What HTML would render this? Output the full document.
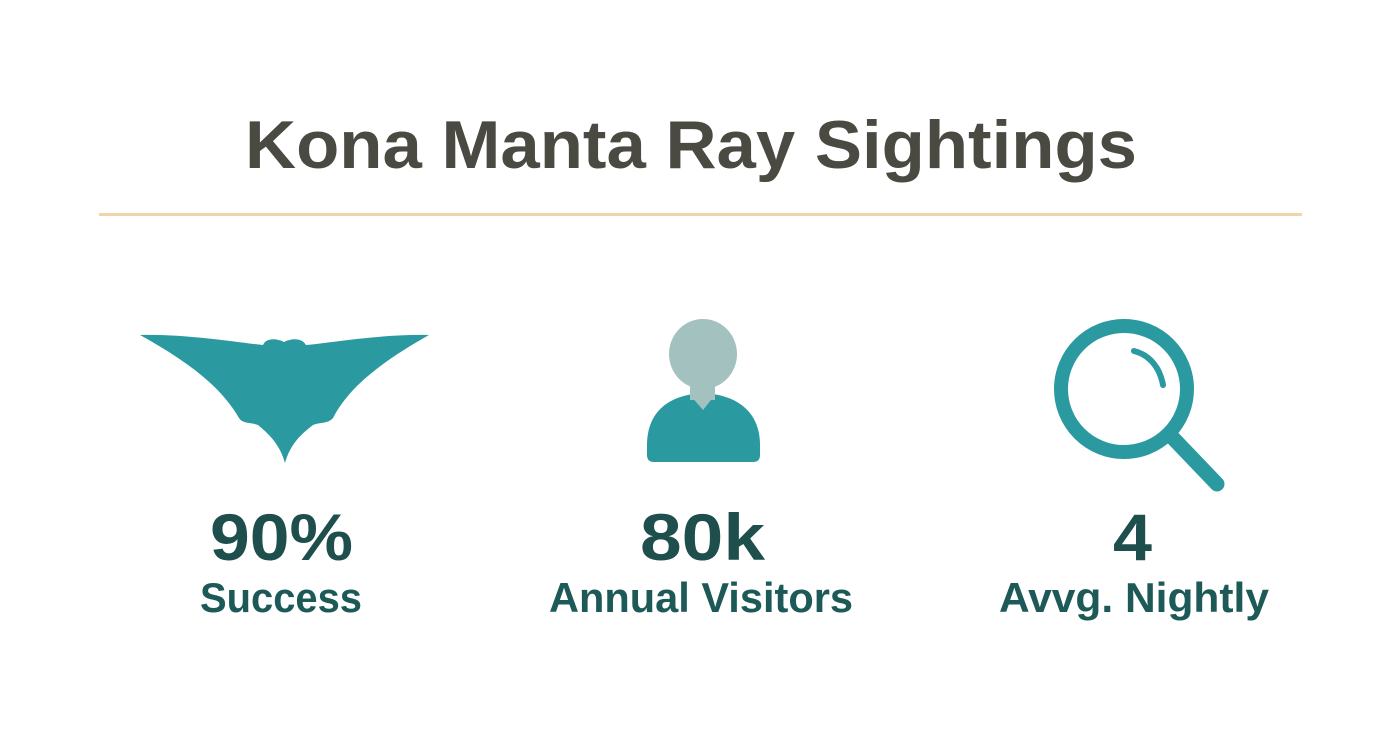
<!DOCTYPE html>
<html><head><meta charset="utf-8"><style>
html,body{margin:0;padding:0;background:#fff}
svg{display:block}
text{font-family:"Liberation Sans",Arial,sans-serif;font-weight:bold}
</style></head><body>
<svg width="1392" height="752" viewBox="0 0 1392 752" xmlns="http://www.w3.org/2000/svg">
<rect width="1392" height="752" fill="#ffffff"/>
<text x="245" y="168" font-size="68" fill="#4a4a42" textLength="892" lengthAdjust="spacingAndGlyphs">Kona Manta Ray Sightings</text>
<rect x="99" y="213" width="1203" height="3" fill="#f1d3ac"/>
<!-- manta -->
<path d="M140,335 C190,334 240,343 263,345 C266,338 276,338 284,342 C292,338 302,338 306,345 C330,343 380,334 429,335 C385,360 350,385 333,418 C328,424 320,422 313,425 C300,435 290,445 285,463 C280,445 270,435 258,425 C250,422 243,424 239,418 C220,385 185,360 140,335 Z" fill="#2a9aa0"/>
<!-- person -->
<path d="M647,455 L647,445 C647,415 665,395 703,393 C741,395 760,415 760,445 L760,455 Q760,462 753,462 L654,462 Q647,462 647,455 Z" fill="#2a9aa0"/>
<rect x="690" y="378" width="25" height="22" fill="#a3c1bf"/>
<path d="M690,395 L703,410 L715,395 Z" fill="#a3c1bf"/>
<ellipse cx="703" cy="354" rx="34" ry="35" fill="#a3c1bf"/>
<!-- magnifier -->
<circle cx="1124" cy="389" r="63" fill="none" stroke="#2a9aa0" stroke-width="14"/>
<line x1="1172" y1="437" x2="1217" y2="484" stroke="#2a9aa0" stroke-width="15" stroke-linecap="round"/>
<path d="M1134,351 C1150,355 1160,368 1163,385" fill="none" stroke="#2a9aa0" stroke-width="6" stroke-linecap="round"/>
<text x="210" y="560" font-size="66" fill="#1e4f4c" textLength="143" lengthAdjust="spacingAndGlyphs">90%</text>
<text x="640" y="560" font-size="66" fill="#1e4f4c" textLength="125" lengthAdjust="spacingAndGlyphs">80k</text>
<text x="1113" y="560" font-size="66" fill="#1e4f4c" textLength="39" lengthAdjust="spacingAndGlyphs">4</text>
<text x="200" y="612" font-size="42" fill="#1d5a57" textLength="162" lengthAdjust="spacingAndGlyphs">Success</text>
<text x="549" y="612" font-size="42" fill="#1d5a57" textLength="304" lengthAdjust="spacingAndGlyphs">Annual Visitors</text>
<text x="999" y="612" font-size="42" fill="#1d5a57" textLength="270" lengthAdjust="spacingAndGlyphs">Avvg. Nightly</text>
</svg>
</body></html>
